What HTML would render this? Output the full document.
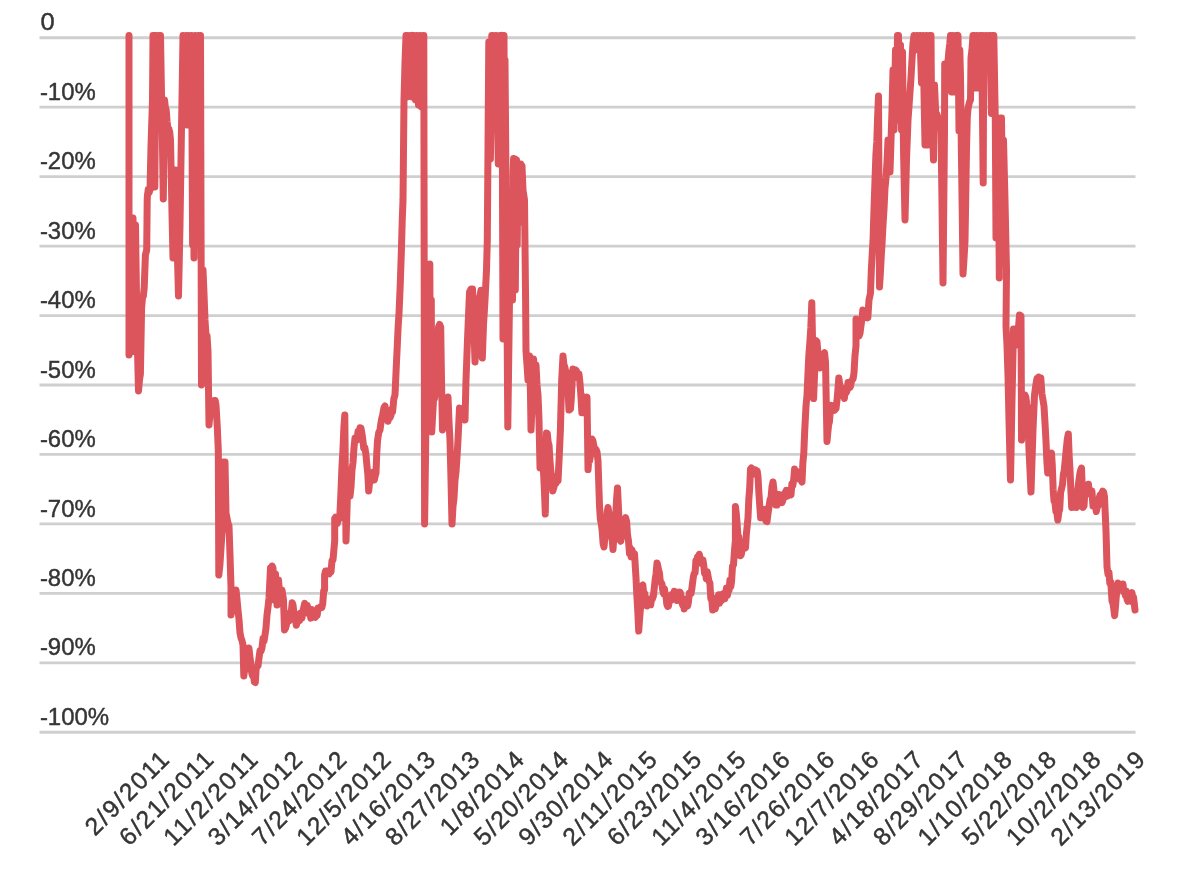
<!DOCTYPE html>
<html lang="en"><head><meta charset="utf-8"><title>Drawdown chart</title>
<style>
html,body{margin:0;padding:0;background:#fff;}
body{width:1190px;height:876px;overflow:hidden;}
svg{display:block;filter:blur(0.55px);}
text{font-family:"Liberation Sans",Arial,sans-serif;font-size:24.6px;fill:#353535;stroke:#353535;stroke-width:0.45px;}
</style></head><body>
<svg width="1190" height="876" viewBox="0 0 1190 876">
<rect width="1190" height="876" fill="#fff"/>
<g stroke="#cfcfcf" stroke-width="2.8">
<line x1="39.5" x2="1135.5" y1="37.75" y2="37.75"/>
<line x1="39.5" x2="1135.5" y1="107.20" y2="107.20"/>
<line x1="39.5" x2="1135.5" y1="176.65" y2="176.65"/>
<line x1="39.5" x2="1135.5" y1="246.10" y2="246.10"/>
<line x1="39.5" x2="1135.5" y1="315.55" y2="315.55"/>
<line x1="39.5" x2="1135.5" y1="385.00" y2="385.00"/>
<line x1="39.5" x2="1135.5" y1="454.45" y2="454.45"/>
<line x1="39.5" x2="1135.5" y1="523.90" y2="523.90"/>
<line x1="39.5" x2="1135.5" y1="593.35" y2="593.35"/>
<line x1="39.5" x2="1135.5" y1="662.80" y2="662.80"/>
<line x1="39.5" x2="1135.5" y1="732.25" y2="732.25"/>
</g>
<g>
<text x="40.5" y="30.35" textLength="14.2" lengthAdjust="spacingAndGlyphs">0</text>
<text x="39.9" y="99.80" textLength="55.8" lengthAdjust="spacingAndGlyphs">-10%</text>
<text x="39.9" y="169.25" textLength="55.8" lengthAdjust="spacingAndGlyphs">-20%</text>
<text x="39.9" y="238.70" textLength="55.8" lengthAdjust="spacingAndGlyphs">-30%</text>
<text x="39.9" y="308.15" textLength="55.8" lengthAdjust="spacingAndGlyphs">-40%</text>
<text x="39.9" y="377.60" textLength="55.8" lengthAdjust="spacingAndGlyphs">-50%</text>
<text x="39.9" y="447.05" textLength="55.8" lengthAdjust="spacingAndGlyphs">-60%</text>
<text x="39.9" y="516.50" textLength="55.8" lengthAdjust="spacingAndGlyphs">-70%</text>
<text x="39.9" y="585.95" textLength="55.8" lengthAdjust="spacingAndGlyphs">-80%</text>
<text x="39.9" y="655.40" textLength="55.8" lengthAdjust="spacingAndGlyphs">-90%</text>
<text x="39.9" y="724.85" textLength="69.3" lengthAdjust="spacingAndGlyphs">-100%</text>
</g>
<g text-anchor="end">
<text transform="translate(170.50 761.20) rotate(-45)" textLength="106.7" lengthAdjust="spacing">2/9/2011</text>
<text transform="translate(214.86 761.20) rotate(-45)" textLength="121.2" lengthAdjust="spacing">6/21/2011</text>
<text transform="translate(259.22 761.20) rotate(-45)" textLength="121.2" lengthAdjust="spacing">11/2/2011</text>
<text transform="translate(303.58 761.20) rotate(-45)" textLength="121.2" lengthAdjust="spacing">3/14/2012</text>
<text transform="translate(347.94 761.20) rotate(-45)" textLength="121.2" lengthAdjust="spacing">7/24/2012</text>
<text transform="translate(392.30 761.20) rotate(-45)" textLength="121.2" lengthAdjust="spacing">12/5/2012</text>
<text transform="translate(436.66 761.20) rotate(-45)" textLength="121.2" lengthAdjust="spacing">4/16/2013</text>
<text transform="translate(481.02 761.20) rotate(-45)" textLength="121.2" lengthAdjust="spacing">8/27/2013</text>
<text transform="translate(525.38 761.20) rotate(-45)" textLength="106.7" lengthAdjust="spacing">1/8/2014</text>
<text transform="translate(569.74 761.20) rotate(-45)" textLength="121.2" lengthAdjust="spacing">5/20/2014</text>
<text transform="translate(614.10 761.20) rotate(-45)" textLength="121.2" lengthAdjust="spacing">9/30/2014</text>
<text transform="translate(658.46 761.20) rotate(-45)" textLength="121.2" lengthAdjust="spacing">2/11/2015</text>
<text transform="translate(702.82 761.20) rotate(-45)" textLength="121.2" lengthAdjust="spacing">6/23/2015</text>
<text transform="translate(747.18 761.20) rotate(-45)" textLength="121.2" lengthAdjust="spacing">11/4/2015</text>
<text transform="translate(791.54 761.20) rotate(-45)" textLength="121.2" lengthAdjust="spacing">3/16/2016</text>
<text transform="translate(835.90 761.20) rotate(-45)" textLength="121.2" lengthAdjust="spacing">7/26/2016</text>
<text transform="translate(880.26 761.20) rotate(-45)" textLength="121.2" lengthAdjust="spacing">12/7/2016</text>
<text transform="translate(924.62 761.20) rotate(-45)" textLength="121.2" lengthAdjust="spacing">4/18/2017</text>
<text transform="translate(968.98 761.20) rotate(-45)" textLength="121.2" lengthAdjust="spacing">8/29/2017</text>
<text transform="translate(1013.34 761.20) rotate(-45)" textLength="121.2" lengthAdjust="spacing">1/10/2018</text>
<text transform="translate(1057.70 761.20) rotate(-45)" textLength="121.2" lengthAdjust="spacing">5/22/2018</text>
<text transform="translate(1102.06 761.20) rotate(-45)" textLength="121.2" lengthAdjust="spacing">10/2/2018</text>
<text transform="translate(1146.42 761.20) rotate(-45)" textLength="121.2" lengthAdjust="spacing">2/13/2019</text>
</g>
<path d="M129.0 35.5 L129.0 355.0 L130.5 222.0 L131.5 352.0 L133.0 218.0 L134.3 350.0 L135.5 225.0 L137.0 330.0 L138.5 391.0 L139.4 380.6 L140.4 374.0 L141.6 308.0 L142.5 297.5 L143.3 296.3 L144.2 288.0 L145.4 255.0 L146.7 250.0 L147.2 200.0 L147.4 196.0 L148.3 189.3 L149.1 192.4 L150.0 190.0 L151.0 146.0 L152.5 100.0 L153.0 35.5 L153.8 95.0 L154.2 35.5 L154.8 187.0 L156.0 35.5 L157.5 90.0 L158.5 35.5 L159.5 90.0 L160.5 35.5 L161.4 88.5 L162.4 139.6 L163.3 199.0 L164.5 100.0 L165.4 107.6 L166.2 109.9 L167.1 121.8 L168.0 130.0 L168.8 128.6 L169.7 132.2 L170.5 140.0 L171.3 178.5 L172.2 222.3 L173.0 258.0 L173.8 224.5 L174.7 196.3 L175.5 170.0 L176.5 213.4 L177.5 258.9 L178.5 296.0 L180.0 225.0 L181.3 140.0 L182.0 100.0 L183.0 35.5 L184.5 110.0 L186.0 35.5 L187.0 125.0 L188.5 35.5 L189.5 81.1 L190.5 125.0 L191.5 35.5 L192.6 245.0 L193.2 100.0 L194.0 258.0 L195.5 35.5 L197.0 230.0 L198.5 35.5 L199.5 200.0 L200.5 35.5 L201.5 385.0 L203.0 270.0 L204.0 293.9 L205.0 320.0 L206.0 335.6 L207.0 335.7 L208.0 351.0 L209.0 425.0 L210.5 408.0 L211.5 410.6 L212.5 403.0 L213.5 404.0 L214.3 400.4 L215.2 400.5 L216.0 405.0 L217.2 425.4 L218.3 450.0 L218.8 575.0 L219.9 565.0 L221.0 548.0 L222.0 533.0 L223.0 525.0 L223.5 462.0 L225.0 462.0 L226.0 513.0 L227.0 518.2 L228.0 523.2 L229.0 526.0 L230.0 555.1 L231.0 587.0 L231.0 615.0 L231.8 611.4 L232.7 601.9 L233.5 597.7 L234.3 595.1 L235.2 596.2 L236.0 590.0 L237.0 599.2 L238.0 610.0 L239.0 619.5 L240.0 633.0 L241.0 637.9 L242.0 640.5 L243.0 645.0 L243.8 676.0 L244.7 669.1 L245.5 669.9 L246.4 664.2 L247.2 654.5 L248.1 653.5 L248.9 648.0 L249.9 656.8 L251.0 665.0 L251.8 673.4 L252.7 676.0 L253.6 675.4 L254.4 682.0 L255.3 682.5 L256.2 668.2 L257.2 666.7 L258.1 665.6 L259.0 658.0 L260.0 650.8 L261.0 651.2 L262.0 648.0 L263.0 638.6 L264.0 641.2 L265.0 635.0 L266.0 627.9 L267.0 615.0 L268.0 607.3 L269.0 598.0 L270.5 568.0 L271.3 572.1 L272.2 566.0 L273.0 568.0 L274.0 600.0 L275.5 574.0 L277.0 605.0 L278.5 580.0 L279.5 592.1 L280.5 600.0 L282.0 590.0 L283.5 600.0 L284.5 630.0 L285.4 628.5 L286.2 625.9 L287.1 622.0 L288.0 620.0 L288.8 621.2 L289.7 619.9 L290.5 612.2 L291.3 611.8 L292.2 602.7 L293.0 605.0 L293.8 612.2 L294.7 616.6 L295.5 620.0 L296.3 625.2 L297.1 623.0 L297.9 616.9 L298.8 617.7 L299.6 620.6 L300.4 613.2 L301.2 617.8 L302.0 618.0 L302.9 611.1 L303.8 607.3 L304.7 603.4 L305.6 605.0 L306.5 610.2 L307.3 605.4 L308.1 609.0 L309.0 614.0 L309.9 612.8 L310.8 618.1 L311.8 609.4 L312.7 613.4 L313.6 614.5 L314.5 614.0 L315.4 617.4 L316.3 615.8 L317.2 615.4 L318.1 608.1 L319.0 608.8 L319.9 607.3 L320.8 608.0 L321.8 607.7 L322.7 604.0 L323.7 590.7 L324.6 590.0 L324.6 575.0 L325.5 571.0 L326.4 571.2 L327.3 570.8 L328.3 573.1 L329.2 573.8 L330.1 569.8 L331.0 572.0 L332.0 560.5 L333.0 560.0 L333.9 549.6 L334.7 541.0 L334.7 518.6 L335.5 517.2 L336.4 519.3 L337.2 523.6 L338.0 520.7 L338.9 518.8 L339.7 518.6 L340.9 493.4 L342.0 465.6 L342.9 450.7 L343.9 427.0 L344.8 415.0 L346.0 541.0 L347.0 509.9 L348.0 470.0 L349.0 486.1 L350.0 496.0 L351.0 487.1 L352.0 470.0 L353.0 462.6 L354.0 447.5 L355.0 438.0 L356.0 437.9 L357.0 440.0 L358.0 431.6 L359.0 433.3 L360.0 427.8 L360.9 428.0 L361.9 433.1 L362.8 439.7 L363.7 448.0 L364.9 447.8 L366.0 455.0 L366.9 465.2 L367.8 474.1 L368.7 491.0 L369.5 482.8 L370.4 481.7 L371.2 478.4 L372.0 480.0 L372.8 477.1 L373.6 472.0 L374.4 479.9 L375.2 475.7 L376.0 473.0 L376.8 452.6 L377.6 440.0 L378.8 432.3 L380.0 430.0 L380.9 423.3 L381.7 418.5 L382.6 415.0 L384.0 407.6 L385.0 405.9 L386.0 416.4 L387.0 415.0 L388.0 421.3 L389.0 416.4 L390.0 417.7 L390.9 415.6 L391.7 409.3 L392.6 412.0 L393.8 399.1 L395.0 395.0 L396.4 364.0 L397.3 345.4 L398.1 327.7 L399.0 313.5 L400.2 285.6 L401.4 250.5 L402.2 221.5 L403.0 200.0 L404.0 100.0 L405.0 62.5 L406.0 35.5 L407.0 97.0 L408.0 35.5 L408.8 40.5 L409.6 35.8 L410.4 35.5 L411.2 36.0 L412.0 35.5 L412.0 97.0 L413.0 61.0 L414.0 35.5 L415.5 100.0 L417.0 35.5 L418.5 105.0 L420.0 35.5 L421.5 107.0 L423.0 35.5 L423.8 35.5 L424.6 524.0 L426.0 420.0 L427.0 300.0 L428.5 420.0 L429.8 264.0 L430.5 400.0 L431.3 300.0 L431.7 432.0 L432.6 416.3 L433.5 400.0 L434.5 398.6 L435.5 390.7 L436.5 380.0 L437.5 355.7 L438.5 327.0 L439.6 324.4 L440.7 327.0 L441.5 380.0 L442.5 430.0 L443.3 421.9 L444.2 413.0 L445.0 410.0 L446.0 408.7 L447.0 401.7 L448.0 397.0 L449.0 421.6 L450.0 440.0 L451.0 480.1 L452.0 524.0 L453.0 506.3 L454.0 498.1 L455.0 480.0 L456.0 472.0 L457.0 457.2 L458.0 440.0 L459.5 408.0 L460.4 411.9 L461.2 412.5 L462.1 412.1 L463.0 410.0 L464.0 412.0 L465.0 420.0 L466.0 380.0 L467.5 340.0 L468.5 316.2 L469.5 292.0 L471.0 289.0 L472.5 289.0 L474.0 330.0 L475.0 362.0 L476.5 335.0 L477.5 315.9 L478.5 300.0 L480.0 295.5 L481.0 290.3 L482.0 295.5 L482.3 358.0 L483.5 325.0 L485.0 300.0 L486.5 270.0 L487.3 240.0 L488.8 42.0 L490.4 159.0 L491.8 35.5 L493.0 35.5 L494.4 98.0 L495.2 61.6 L496.0 35.5 L497.1 97.3 L498.3 164.0 L499.1 97.1 L500.0 35.5 L501.0 37.6 L502.0 35.5 L503.0 339.0 L504.0 35.5 L504.5 150.0 L505.0 60.0 L506.5 240.0 L507.8 427.0 L508.6 368.5 L509.5 300.0 L510.5 245.0 L511.5 225.0 L512.5 300.0 L513.2 170.0 L513.6 158.5 L514.3 200.0 L515.0 159.0 L515.3 290.0 L516.5 160.0 L517.2 245.0 L518.0 164.0 L518.8 210.0 L519.6 164.0 L520.6 164.0 L521.3 222.0 L522.0 166.0 L523.0 190.0 L524.5 200.0 L525.6 300.0 L526.0 351.0 L527.0 364.9 L528.0 380.0 L529.5 356.0 L530.5 395.0 L531.0 430.0 L532.5 395.0 L533.5 359.0 L534.3 365.8 L535.2 368.4 L536.0 365.0 L537.0 385.0 L538.0 395.0 L539.0 420.0 L540.0 468.0 L541.0 452.5 L542.0 440.0 L542.8 455.4 L543.6 474.0 L544.5 492.2 L545.3 514.0 L546.5 433.0 L547.3 433.7 L548.2 442.4 L549.0 445.0 L550.0 460.9 L550.9 471.7 L551.8 479.3 L552.8 491.0 L553.9 487.2 L555.0 480.0 L556.0 483.6 L557.0 476.1 L558.0 481.0 L559.2 457.3 L560.4 430.0 L561.7 380.0 L563.0 356.0 L563.9 364.5 L564.8 367.1 L565.6 370.8 L566.5 372.0 L567.3 384.4 L568.2 393.8 L569.0 410.0 L570.5 409.0 L571.3 398.8 L572.2 380.5 L573.0 369.0 L573.9 373.0 L574.7 375.6 L575.6 370.0 L576.4 370.8 L577.3 377.5 L578.1 375.8 L579.0 374.0 L580.0 383.3 L580.9 395.8 L581.9 412.8 L583.0 401.1 L584.0 397.0 L585.0 401.5 L586.0 400.4 L587.0 397.0 L588.0 469.6 L588.8 459.6 L589.6 461.0 L590.4 456.5 L591.2 446.8 L592.0 439.0 L593.0 441.0 L594.0 446.9 L595.0 450.0 L596.0 449.5 L597.0 451.8 L598.0 460.7 L599.5 506.0 L600.4 519.4 L601.3 524.0 L602.2 530.9 L603.1 543.6 L604.0 547.0 L604.8 538.4 L605.6 535.3 L606.4 526.9 L607.2 512.2 L608.0 507.5 L608.8 511.8 L609.7 519.2 L610.5 525.6 L611.3 536.5 L612.2 539.9 L613.0 549.5 L613.9 536.3 L614.8 520.8 L615.7 517.1 L616.6 498.7 L617.5 488.0 L618.3 504.9 L619.2 523.6 L620.0 540.0 L620.8 541.2 L621.6 532.7 L622.4 535.0 L623.2 527.2 L624.0 524.4 L624.8 521.1 L625.6 517.6 L626.6 521.3 L627.5 534.9 L628.5 541.0 L629.5 553.5 L630.3 548.0 L631.2 556.8 L632.0 549.9 L632.8 553.2 L633.7 556.0 L634.5 553.5 L636.0 578.0 L636.9 596.3 L637.8 611.4 L638.7 631.0 L639.5 620.0 L640.4 609.1 L641.2 600.4 L642.0 586.0 L642.8 585.0 L643.7 593.3 L644.5 593.2 L645.3 596.9 L646.2 605.7 L647.0 606.0 L647.9 604.7 L648.8 603.8 L649.7 604.6 L650.7 604.8 L651.6 598.2 L652.5 598.7 L653.4 596.0 L654.3 587.8 L655.2 579.6 L656.1 573.4 L657.0 563.0 L657.8 566.0 L658.7 570.4 L659.5 573.3 L660.3 581.9 L661.2 582.7 L662.0 584.0 L662.8 590.5 L663.6 593.7 L664.4 588.6 L665.2 594.3 L666.0 596.0 L666.8 604.2 L667.7 606.4 L668.5 606.0 L669.3 600.3 L670.2 598.5 L671.0 600.4 L671.8 594.6 L672.7 594.8 L673.5 596.0 L674.3 591.3 L675.2 597.9 L676.0 599.1 L676.8 600.4 L677.7 592.2 L678.5 598.4 L679.3 597.8 L680.2 592.1 L681.0 596.0 L681.8 602.2 L682.6 605.1 L683.4 598.9 L684.2 609.0 L685.0 606.0 L685.9 603.1 L686.7 602.3 L687.6 606.0 L688.4 602.5 L689.3 593.3 L690.1 594.5 L691.0 593.5 L691.8 589.1 L692.6 582.6 L693.4 576.5 L694.2 573.3 L695.1 573.1 L695.9 560.8 L696.7 562.2 L697.5 557.0 L698.4 557.6 L699.3 554.2 L700.2 558.9 L701.1 563.4 L702.0 563.4 L702.9 559.8 L703.8 565.8 L704.6 573.7 L705.5 574.0 L706.3 578.6 L707.2 571.6 L708.0 575.9 L708.9 581.0 L709.9 583.2 L710.8 598.6 L711.8 600.2 L712.7 610.0 L713.5 604.0 L714.4 605.3 L715.2 608.8 L716.0 605.9 L716.9 597.8 L717.7 598.6 L718.6 594.7 L719.5 603.2 L720.4 599.4 L721.3 600.8 L722.2 594.1 L723.1 593.7 L724.0 598.6 L724.8 598.7 L725.7 593.9 L726.5 588.0 L727.4 595.6 L728.2 590.3 L729.1 590.2 L729.9 580.3 L730.8 586.9 L731.6 581.0 L732.5 566.1 L733.5 564.8 L734.5 550.2 L735.4 540.6 L735.4 506.5 L736.2 512.9 L737.1 523.5 L737.9 535.8 L738.7 536.7 L739.6 543.4 L740.4 555.7 L741.2 554.7 L742.1 550.3 L743.0 547.6 L743.8 546.8 L744.6 544.3 L745.5 548.0 L746.3 534.7 L747.2 525.8 L748.0 517.8 L748.8 499.4 L749.7 488.1 L750.5 469.0 L751.4 467.9 L752.2 471.5 L753.1 469.2 L754.0 474.0 L754.8 472.9 L755.6 469.8 L756.4 472.9 L757.2 470.9 L758.0 476.8 L758.9 493.0 L759.7 504.7 L760.6 517.8 L761.5 512.4 L762.3 513.6 L763.1 516.7 L764.0 510.0 L765.0 509.5 L766.0 521.2 L767.0 521.6 L768.0 513.7 L769.0 507.1 L770.0 500.0 L771.0 497.7 L772.0 486.8 L773.0 482.0 L773.9 489.7 L774.8 499.4 L775.7 505.0 L776.9 505.1 L778.0 494.5 L778.8 494.4 L779.6 501.4 L780.4 501.7 L781.2 502.6 L782.0 502.7 L782.9 500.1 L783.7 498.0 L784.6 493.2 L785.4 492.5 L786.3 490.3 L787.1 496.2 L788.0 492.0 L789.0 490.3 L790.0 490.3 L791.0 495.0 L791.9 483.9 L792.8 485.8 L793.7 479.6 L794.6 469.0 L795.5 473.1 L796.3 471.1 L797.1 472.9 L798.0 478.0 L798.8 476.5 L799.6 479.2 L800.4 476.6 L801.2 480.6 L802.0 482.0 L802.9 462.4 L803.8 453.1 L804.7 431.0 L806.0 406.0 L807.0 395.4 L807.9 375.0 L808.8 355.9 L809.8 343.0 L810.8 328.0 L811.8 302.7 L812.7 348.6 L813.6 398.6 L814.8 368.0 L816.0 340.5 L817.0 341.9 L817.9 352.9 L818.8 360.8 L819.8 368.0 L820.8 364.5 L821.7 357.7 L822.6 357.6 L823.6 354.0 L824.5 352.6 L825.5 362.0 L827.0 441.5 L827.8 432.8 L828.6 424.8 L829.4 422.1 L830.2 412.1 L831.0 411.0 L831.8 405.4 L832.7 408.1 L833.5 406.9 L834.3 410.4 L835.2 409.4 L836.0 408.7 L836.9 401.2 L837.9 390.0 L838.8 378.0 L839.8 384.9 L840.7 391.2 L841.6 390.3 L842.6 396.0 L843.5 392.7 L844.4 398.5 L845.3 387.9 L846.2 392.8 L847.1 390.4 L848.0 382.4 L848.9 386.0 L849.8 387.5 L850.6 386.0 L851.5 380.9 L852.3 379.9 L853.1 378.6 L854.0 373.0 L855.0 355.3 L856.0 345.6 L856.0 319.0 L857.0 324.9 L858.0 330.4 L859.0 336.0 L860.0 333.2 L860.9 326.4 L861.8 320.1 L862.8 310.0 L863.6 312.2 L864.5 317.0 L865.3 316.0 L866.1 317.4 L867.0 313.6 L867.8 317.9 L869.0 300.0 L870.5 293.0 L871.3 270.5 L872.2 254.3 L873.0 241.0 L874.0 209.0 L875.0 180.0 L875.9 154.7 L876.8 141.7 L877.6 117.6 L878.5 96.0 L879.5 287.0 L880.4 272.9 L881.2 257.4 L882.1 242.5 L883.0 225.0 L884.0 209.2 L885.0 188.2 L886.0 178.0 L887.0 162.3 L888.0 140.0 L889.0 158.7 L890.0 172.0 L891.0 141.0 L892.0 110.0 L893.0 70.0 L894.0 130.0 L895.5 50.0 L896.5 120.0 L897.5 35.5 L898.5 35.5 L899.5 110.0 L900.5 45.0 L901.5 130.0 L902.5 52.0 L903.5 150.0 L905.0 220.0 L906.5 160.0 L908.0 120.0 L909.0 106.4 L910.0 92.0 L911.0 77.8 L912.0 60.0 L913.0 43.0 L914.0 35.5 L915.5 50.0 L917.0 35.5 L918.5 50.0 L920.0 35.5 L921.5 83.0 L923.0 35.5 L924.0 92.9 L925.0 145.0 L926.5 35.5 L928.0 145.0 L929.5 35.5 L931.0 35.5 L931.5 100.0 L932.5 127.3 L933.5 160.0 L934.5 85.0 L936.0 120.0 L937.0 114.3 L938.0 118.0 L939.0 119.4 L940.0 128.5 L941.0 130.0 L942.0 203.3 L943.0 283.0 L944.5 131.0 L944.7 64.0 L945.5 66.1 L946.4 68.2 L947.2 62.4 L948.0 62.0 L948.8 51.9 L949.7 44.1 L950.5 35.5 L951.5 92.0 L953.0 35.5 L954.5 92.0 L956.0 35.5 L957.0 37.5 L958.0 35.5 L959.0 131.0 L959.8 50.0 L960.5 76.0 L961.3 144.9 L962.2 209.3 L963.0 274.0 L964.0 259.1 L965.0 241.0 L966.5 150.0 L967.3 117.0 L968.1 108.1 L968.9 104.6 L969.7 101.5 L970.5 100.0 L971.0 58.0 L972.0 49.4 L973.0 35.5 L974.5 35.5 L975.5 88.0 L977.0 35.5 L978.5 88.0 L980.0 35.5 L981.5 35.5 L982.4 107.1 L983.2 183.0 L983.8 35.5 L984.6 42.5 L985.5 48.0 L987.0 35.5 L988.5 48.0 L990.0 35.5 L991.4 113.5 L992.5 35.5 L993.5 113.5 L993.8 35.5 L995.3 120.0 L996.0 238.0 L997.2 125.0 L998.2 118.0 L999.3 278.0 L1000.5 118.0 L1001.5 118.0 L1002.5 200.0 L1003.5 140.0 L1005.0 200.0 L1006.5 270.0 L1006.0 326.0 L1007.0 345.6 L1008.0 376.0 L1009.0 421.0 L1010.5 480.0 L1012.0 400.0 L1013.5 329.0 L1014.5 329.5 L1015.5 337.1 L1016.5 345.0 L1017.5 336.9 L1018.5 327.1 L1019.5 315.0 L1021.0 316.0 L1021.3 380.0 L1021.5 440.0 L1023.0 400.0 L1024.0 399.4 L1025.0 395.0 L1025.8 397.0 L1026.7 403.8 L1027.5 408.0 L1029.0 450.0 L1030.0 470.6 L1031.0 492.0 L1032.0 460.6 L1033.0 430.0 L1034.5 395.0 L1036.0 384.0 L1037.0 378.6 L1037.9 385.9 L1038.9 377.1 L1039.8 384.5 L1040.8 378.0 L1041.9 393.8 L1043.0 400.0 L1044.0 406.2 L1045.0 423.0 L1045.9 439.2 L1046.8 459.9 L1047.7 473.0 L1048.7 473.1 L1049.6 462.4 L1050.5 455.5 L1051.5 453.0 L1052.3 465.8 L1053.2 489.9 L1054.0 501.0 L1055.0 502.6 L1055.9 511.4 L1056.8 511.3 L1057.8 520.0 L1058.8 512.4 L1059.7 509.2 L1060.6 492.3 L1061.6 488.5 L1062.5 484.7 L1063.4 474.0 L1064.2 470.9 L1065.1 461.5 L1066.0 452.0 L1067.2 440.0 L1068.3 434.0 L1069.2 456.4 L1070.0 470.0 L1070.8 488.5 L1071.7 507.4 L1072.5 502.2 L1073.4 501.9 L1074.2 507.3 L1075.0 506.9 L1075.9 505.2 L1076.7 507.4 L1077.8 489.7 L1079.0 480.0 L1079.8 474.3 L1080.7 470.0 L1081.5 468.0 L1083.0 507.4 L1084.0 506.0 L1084.9 491.7 L1085.8 494.9 L1086.8 487.0 L1087.7 491.4 L1088.5 484.2 L1089.3 493.7 L1090.2 492.0 L1091.1 494.8 L1091.9 491.0 L1093.0 506.0 L1093.8 503.7 L1094.7 504.6 L1095.5 504.8 L1096.3 511.5 L1097.2 507.0 L1098.0 506.0 L1099.0 499.0 L1100.0 495.0 L1100.9 494.6 L1101.8 493.3 L1102.7 491.2 L1103.6 492.2 L1104.5 497.0 L1106.0 531.0 L1107.0 566.7 L1108.0 574.2 L1108.9 571.9 L1109.8 582.9 L1110.8 581.9 L1112.0 601.0 L1112.9 603.1 L1113.7 608.2 L1114.6 615.7 L1115.4 607.6 L1116.3 595.9 L1117.2 589.8 L1118.0 583.0 L1118.8 588.2 L1119.7 587.6 L1120.5 586.9 L1121.3 585.1 L1122.2 588.4 L1123.0 584.0 L1123.8 591.8 L1124.6 590.5 L1125.4 595.4 L1126.2 591.0 L1127.0 599.0 L1127.8 601.3 L1128.6 598.0 L1129.4 601.0 L1130.2 599.6 L1131.1 595.4 L1131.9 592.5 L1132.7 601.9 L1133.5 597.0 L1135.0 610.0" fill="none" stroke="#dc545c" stroke-width="7" stroke-linejoin="round" stroke-linecap="round"/>
</svg>
</body></html>
